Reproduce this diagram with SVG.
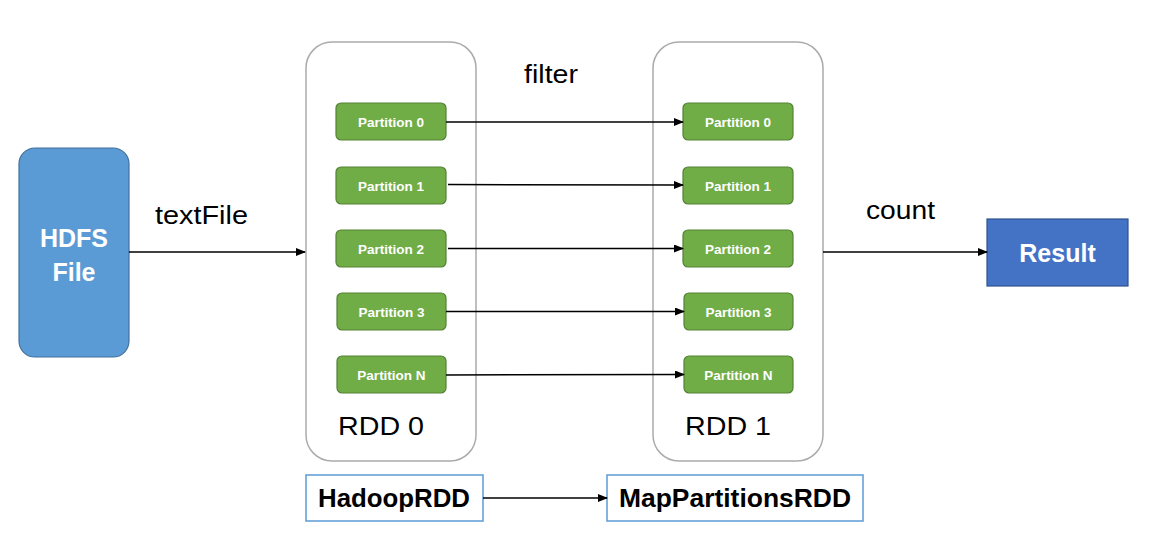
<svg xmlns="http://www.w3.org/2000/svg" width="1158" height="541" viewBox="0 0 1158 541">
<defs>
<marker id="ah" markerWidth="10" markerHeight="8" refX="9" refY="4" orient="auto" markerUnits="userSpaceOnUse">
<path d="M0,0 L10,4 L0,8 Z" fill="#000"/>
</marker>
<style>
.part rect{fill:#70AD47;stroke:#548235;stroke-width:1.2}
.part text{fill:#fff;font-family:"Liberation Sans",Arial,sans-serif;font-weight:bold;font-size:13.5px;text-anchor:middle}
.cont{fill:#fff;stroke:#ABABAB;stroke-width:1.5}
.lbl{font-family:"Liberation Sans",Arial,sans-serif;font-size:25px;fill:#000}
.conn line{stroke:#000;stroke-width:1.5;marker-end:url(#ah)}
.cls rect{fill:#fff;stroke:#5B9BD5;stroke-width:1.5}
.cls text{font-family:"Liberation Sans",Arial,sans-serif;font-weight:bold;font-size:25px;fill:#000}
</style>
</defs>
<rect width="1158" height="541" fill="#fff"/>

<g id="hdfs">
<rect x="19" y="148" width="110" height="209" rx="16" fill="#5B9BD5" stroke="#41719C" stroke-width="1.2"/>
<text x="74" y="247" font-family="'Liberation Sans',Arial,sans-serif" font-weight="bold" font-size="25" fill="#fff" text-anchor="middle">HDFS</text>
<text x="74" y="281" font-family="'Liberation Sans',Arial,sans-serif" font-weight="bold" font-size="25" fill="#fff" text-anchor="middle">File</text>
</g>

<g id="rdd0">
<rect class="cont" x="306" y="42" width="170" height="419" rx="26"/>
<text class="lbl" x="338" y="435" textLength="86" lengthAdjust="spacingAndGlyphs">RDD 0</text>
</g>
<g id="rdd1">
<rect class="cont" x="653" y="42" width="170" height="419" rx="26"/>
<text class="lbl" x="685" y="435" textLength="86" lengthAdjust="spacingAndGlyphs">RDD 1</text>
</g>

<g id="rdd0-p0" class="part"><rect x="336" y="103" width="110" height="37" rx="5"/><text x="391" y="126.5">Partition 0</text></g>
<g id="rdd0-p1" class="part"><rect x="336" y="167" width="110" height="37" rx="5"/><text x="391" y="190.5">Partition 1</text></g>
<g id="rdd0-p2" class="part"><rect x="336" y="230" width="110" height="37" rx="5"/><text x="391" y="253.5">Partition 2</text></g>
<g id="rdd0-p3" class="part"><rect x="337" y="293" width="109" height="37" rx="5"/><text x="391.5" y="316.5">Partition 3</text></g>
<g id="rdd0-pn" class="part"><rect x="337" y="356" width="109" height="37" rx="5"/><text x="391.5" y="379.5">Partition N</text></g>

<g id="rdd1-p0" class="part"><rect x="683" y="103" width="110" height="37" rx="5"/><text x="738" y="126.5">Partition 0</text></g>
<g id="rdd1-p1" class="part"><rect x="683" y="167" width="110" height="37" rx="5"/><text x="738" y="190.5">Partition 1</text></g>
<g id="rdd1-p2" class="part"><rect x="683" y="230" width="110" height="37" rx="5"/><text x="738" y="253.5">Partition 2</text></g>
<g id="rdd1-p3" class="part"><rect x="684" y="293" width="109" height="37" rx="5"/><text x="738.5" y="316.5">Partition 3</text></g>
<g id="rdd1-pn" class="part"><rect x="684" y="356" width="109" height="37" rx="5"/><text x="738.5" y="379.5">Partition N</text></g>

<g id="result">
<rect x="987" y="219" width="141" height="67" fill="#4472C4" stroke="#2F528F" stroke-width="1.2"/>
<text x="1057.5" y="262" font-family="'Liberation Sans',Arial,sans-serif" font-size="25" font-weight="bold" fill="#fff" text-anchor="middle">Result</text>
</g>

<g id="hadooprdd" class="cls"><rect x="306" y="475" width="177" height="46"/><text x="318" y="507" textLength="152" lengthAdjust="spacingAndGlyphs">HadoopRDD</text></g>
<g id="mappartitionsrdd" class="cls"><rect x="607" y="475" width="256" height="46"/><text x="619" y="507" textLength="232" lengthAdjust="spacingAndGlyphs">MapPartitionsRDD</text></g>

<g id="labels">
<text class="lbl" x="155" y="224" textLength="93" lengthAdjust="spacingAndGlyphs">textFile</text>
<text class="lbl" x="524" y="83" textLength="54" lengthAdjust="spacingAndGlyphs">filter</text>
<text class="lbl" x="866" y="219" textLength="69" lengthAdjust="spacingAndGlyphs">count</text>
</g>

<g id="connectors" class="conn">
<line x1="129" y1="252" x2="305" y2="252"/>
<line x1="446" y1="122" x2="683" y2="122"/>
<line x1="448" y1="184.5" x2="683" y2="185"/>
<line x1="448" y1="248.5" x2="683" y2="248.5"/>
<line x1="446" y1="311.5" x2="684" y2="311.5"/>
<line x1="446" y1="375" x2="684" y2="374.5"/>
<line x1="823" y1="252" x2="987" y2="252"/>
<line x1="483" y1="498" x2="607" y2="498"/>
</g>
</svg>
